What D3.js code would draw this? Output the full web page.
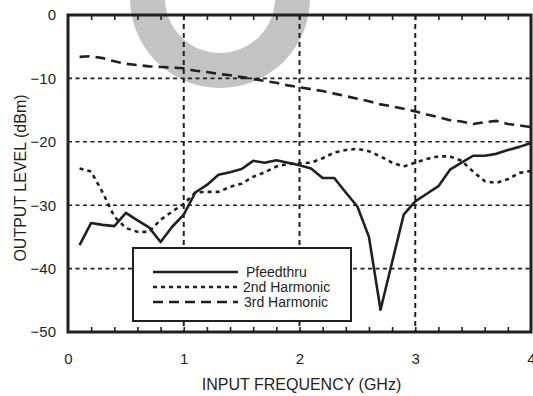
<!DOCTYPE html>
<html>
<head>
<meta charset="utf-8">
<script src="https://cdn.jsdelivr.net/npm/d3@7"></script>
<style>
  body { margin: 0; background: #fff; }
  text { font-family: "Liberation Sans", Arial, Helvetica, sans-serif; fill: #231f20; }
</style>
</head>
<body>
<div id="chart"></div>
<script>
// frequency steps (GHz)
const freq = [0.1,0.2,0.3,0.4,0.5,0.6,0.7,0.8,0.9,1.0,1.1,1.2,1.3,1.4,1.5,1.6,1.7,1.8,1.9,2.0,
              2.1,2.2,2.3,2.4,2.5,2.6,2.7,2.8,2.9,3.0,3.1,3.2,3.3,3.4,3.5,3.6,3.7,3.8,3.9,4.0];

const pfeedthru = [-36.3,-32.8,-33.1,-33.3,-31.2,-32.4,-33.5,-35.8,-33.4,-31.5,
                   -28.0,-26.8,-25.2,-24.8,-24.3,-23.0,-23.3,-22.9,-23.3,-23.7,
                   -24.2,-25.7,-25.7,-28.0,-30.2,-35.0,-46.5,-39.0,-31.5,-29.4,
                   -28.2,-27.0,-24.4,-23.3,-22.2,-22.2,-21.9,-21.3,-20.8,-20.2];

const harm2 = [-24.2,-24.7,-28.0,-31.8,-33.6,-34.2,-34.2,-32.3,-31.0,-29.8,
               -28.0,-27.9,-27.9,-27.1,-26.6,-25.5,-24.8,-23.9,-23.5,-23.4,
               -23.3,-22.6,-21.7,-21.3,-21.1,-21.5,-22.3,-23.3,-23.9,-23.3,
               -22.7,-22.3,-22.3,-23.0,-24.7,-26.2,-26.5,-25.9,-24.9,-24.6];

const harm3 = [-6.6,-6.5,-6.8,-7.3,-7.7,-7.9,-8.1,-8.2,-8.3,-8.4,
               -8.8,-9.0,-9.3,-9.5,-9.8,-10.1,-10.4,-10.7,-11.1,-11.4,
               -11.7,-12.0,-12.4,-12.8,-13.2,-13.6,-14.1,-14.4,-14.8,-15.2,
               -15.7,-16.1,-16.6,-16.8,-17.2,-16.9,-16.7,-17.2,-17.4,-17.7];

const xTicks = [0, 1, 2, 3, 4];
const yTicks = [0, -10, -20, -30, -40, -50];
const seriesNames = ["Pfeedthru", "2nd Harmonic", "3rd Harmonic"];

const W = 533, H = 396;
const margin = { top: 15, right: 2, bottom: 64, left: 68 };

const svg = d3.select('#chart').append('svg')
  .attr('width', W)
  .attr('height', H);

const x = d3.scaleLinear().domain([0, 4]).range([margin.left, W - margin.right]);
const y = d3.scaleLinear().domain([-50, 0]).range([H - margin.bottom, margin.top]);

// grey ring watermark behind the chart
svg.append('path')
  .attr('transform', 'translate(220,-2)')
  .attr('d', d3.arc()({ innerRadius: 55, outerRadius: 90, startAngle: 0, endAngle: 2 * Math.PI }))
  .attr('fill', '#c3c3c3');

// grid
const grid = svg.append('g');
grid.selectAll('.vgrid')
  .data(xTicks.slice(1, -1))
  .enter().append('line')
  .attr('x1', d => x(d)).attr('x2', d => x(d))
  .attr('y1', y(0)).attr('y2', y(-50))
  .attr('stroke', '#231f20')
  .attr('stroke-width', 2)
  .attr('stroke-dasharray', '5,4');
grid.selectAll('.hgrid')
  .data(yTicks.slice(1, -1))
  .enter().append('line')
  .attr('x1', x(0)).attr('x2', x(4))
  .attr('y1', d => y(d)).attr('y2', d => y(d))
  .attr('stroke', '#231f20')
  .attr('stroke-width', 1.6)
  .attr('stroke-dasharray', '4,3.5');

// minor ticks top & bottom, pointing inward
const minor = d3.range(1, 20).map(i => i * 0.2);
svg.append('g')
  .attr('transform', `translate(0,${y(-50)})`)
  .call(d3.axisBottom(x).tickValues(minor).tickSize(-5).tickFormat(''))
  .call(g => g.select('.domain').remove())
  .selectAll('.tick line').attr('stroke', '#231f20').attr('stroke-width', 1.6);
svg.append('g')
  .attr('transform', `translate(0,${y(0)})`)
  .call(d3.axisTop(x).tickValues(minor).tickSize(-5).tickFormat(''))
  .call(g => g.select('.domain').remove())
  .selectAll('.tick line').attr('stroke', '#231f20').attr('stroke-width', 1.6);

// data lines
const styles = [
  { data: pfeedthru, dash: null },
  { data: harm2, dash: '4,4' },
  { data: harm3, dash: '10,6' }
];
const line = d3.line()
  .x((d, i) => x(freq[i]))
  .y(d => y(d));

svg.selectAll('.series')
  .data(styles)
  .enter().append('path')
  .attr('class', 'series')
  .attr('d', d => line(d.data))
  .attr('fill', 'none')
  .attr('stroke', '#231f20')
  .attr('stroke-width', 2.6)
  .attr('stroke-linejoin', 'round')
  .attr('stroke-dasharray', d => d.dash);

// frame
svg.append('rect')
  .attr('x', x(0)).attr('y', y(0))
  .attr('width', x(4) - x(0))
  .attr('height', y(-50) - y(0))
  .attr('fill', 'none')
  .attr('stroke', '#231f20')
  .attr('stroke-width', 3);

// tick labels
svg.append('g')
  .attr('transform', `translate(0,${y(-50)})`)
  .call(d3.axisBottom(x).tickValues(xTicks).tickSize(0).tickPadding(21).tickFormat(d3.format('d')))
  .call(g => g.select('.domain').remove())
  .selectAll('text')
  .attr('font-size', 15)
  .attr('font-family', '"Liberation Sans", Arial, sans-serif')
  .attr('fill', '#231f20');

svg.append('g')
  .attr('transform', `translate(${x(0)},0)`)
  .call(d3.axisLeft(y).tickValues(yTicks).tickSize(0).tickPadding(12).tickFormat(d3.format('d')))
  .call(g => g.select('.domain').remove())
  .selectAll('text')
  .attr('font-size', 15)
  .attr('font-family', '"Liberation Sans", Arial, sans-serif')
  .attr('fill', '#231f20');

// axis titles
svg.append('text')
  .attr('x', (x(0) + x(4)) / 2 + 2)
  .attr('y', 390)
  .attr('text-anchor', 'middle')
  .attr('font-size', 16)
  .text('INPUT FREQUENCY (GHz)');

svg.append('text')
  .attr('transform', `translate(26,${178}) rotate(-90)`)
  .attr('text-anchor', 'middle')
  .attr('font-size', 16)
  .text('OUTPUT LEVEL (dBm)');

// legend
const legend = svg.append('g');
legend.append('rect')
  .attr('x', 133).attr('y', 248)
  .attr('width', 218).attr('height', 73)
  .attr('fill', '#fff')
  .attr('stroke', '#231f20')
  .attr('stroke-width', 2);

const rows = legend.selectAll('.row')
  .data(styles)
  .enter().append('g')
  .attr('transform', (d, i) => `translate(0,${272 + i * 15})`);
rows.append('line')
  .attr('x1', 153).attr('x2', 238)
  .attr('stroke', '#231f20')
  .attr('stroke-width', 2.6)
  .attr('stroke-dasharray', d => d.dash);
rows.append('text')
  .attr('x', (d, i) => [246, 243, 244][i])
  .attr('dy', '0.35em')
  .attr('font-size', 14)
  .text((d, i) => seriesNames[i]);
</script>
</body>
</html>
